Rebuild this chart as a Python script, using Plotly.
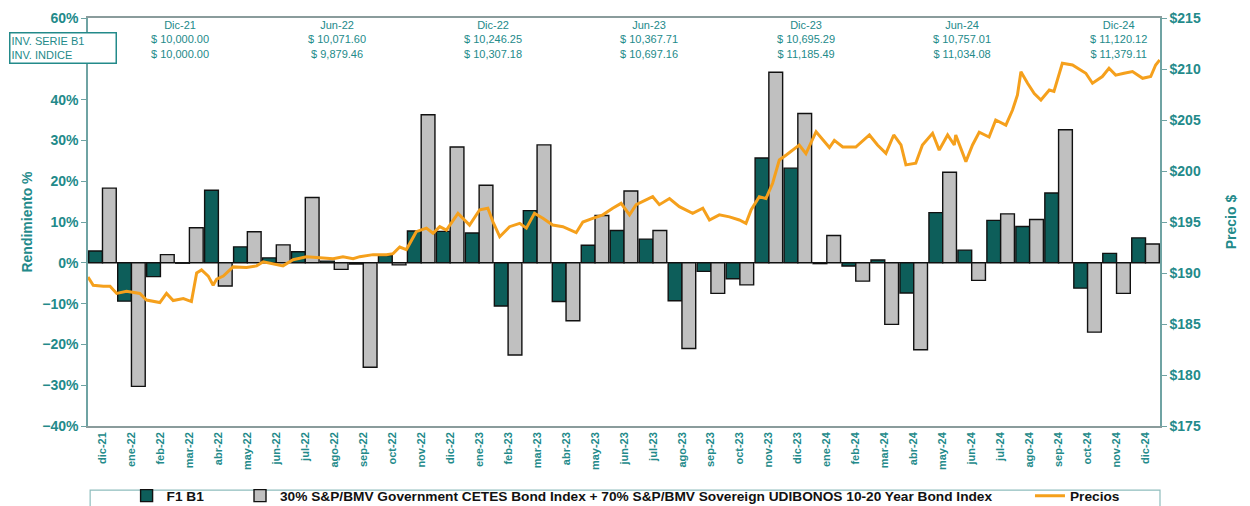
import plotly.graph_objects as go

# ---------------- data ----------------
months = ["dic-21", "ene-22", "feb-22", "mar-22", "abr-22", "may-22", "jun-22", "jul-22",
          "ago-22", "sep-22", "oct-22", "nov-22", "dic-22", "ene-23", "feb-23", "mar-23",
          "abr-23", "may-23", "jun-23", "jul-23", "ago-23", "sep-23", "oct-23", "nov-23",
          "dic-23", "ene-24", "feb-24", "mar-24", "abr-24", "may-24", "jun-24", "jul-24",
          "ago-24", "sep-24", "oct-24", "nov-24", "dic-24"]

f1_b1 = [2.9, -9.4, -3.4, -0.1, 17.8, 3.9, 1.2, 2.7, 0.4, -0.3, 1.8, 7.8,
         7.7, 7.3, -10.6, 12.8, -9.5, 4.3, 7.9, 5.8, -9.3, -2.1, -3.9, 25.7,
         23.2, -0.2, -0.8, 0.7, -7.4, 12.3, 3.1, 10.4, 8.9, 17.1, -6.2, 2.3, 6.1]

benchmark = [18.3, -30.3, 2.0, 8.6, -5.7, 7.6, 4.4, 16.0, -1.6, -25.6, -0.5, 36.3,
             28.4, 19.0, -22.6, 28.9, -14.2, 11.6, 17.6, 7.9, -21.0, -7.5, -5.4, 46.7,
             36.6, 6.7, -4.5, -15.1, -21.3, 22.2, -4.3, 12.0, 10.6, 32.6, -17.0, -7.5, 4.6]

# price series: position in months (0 = dic-21) and price
price_t = [-0.5, -0.32, 0.03, 0.26, 0.49, 0.83, 1.29, 1.52, 1.98, 2.21, 2.44, 2.79, 3.07,
           3.25, 3.42, 3.65, 3.82, 3.94, 4.17, 4.51, 4.97, 5.32, 5.55, 5.89, 6.23, 6.58,
           7.04, 7.5, 7.96, 8.3, 8.65, 8.88, 9.34, 9.8, 10.03, 10.26, 10.49, 10.83, 11.18,
           11.41, 11.64, 11.87, 12.27, 12.67, 13.02, 13.3, 13.48, 13.71, 14.05, 14.4, 14.63,
           14.91, 15.2, 15.54, 15.89, 16.35, 16.58, 16.92, 17.27, 17.61, 17.9, 18.19, 18.42,
           18.99, 19.22, 19.57, 19.91, 20.37, 20.72, 20.95, 21.29, 21.64, 21.98, 22.21, 22.39,
           22.67, 22.9, 23.13, 23.36, 23.6, 23.82, 24.05, 24.28, 24.63, 25.09, 25.26, 25.55,
           26.0, 26.47, 26.75, 27.04, 27.31, 27.56, 27.73, 28.07, 28.3, 28.65, 28.88, 29.17,
           29.4, 29.45, 29.8, 30.03, 30.26, 30.6, 30.83, 31.18, 31.41, 31.58, 31.7, 31.93,
           32.16, 32.39, 32.68, 32.84, 33.13, 33.48, 33.94, 34.17, 34.51, 34.74, 34.97, 35.26,
           35.55, 35.9, 36.18, 36.35, 36.49]
price = [189.6, 188.8, 188.7, 188.7, 188.0, 188.2, 188.0, 187.35, 187.1, 188.0, 187.3, 187.5, 187.2,
         190.0, 190.3, 189.7, 188.8, 189.4, 189.7, 190.6, 190.55, 190.7, 191.1, 190.9, 190.7, 191.3,
         191.6, 191.5, 191.4, 191.6, 191.4, 191.6, 191.8, 191.8, 191.9, 192.55, 192.3, 194.05, 194.4,
         193.9, 194.54, 194.2, 195.85, 194.7, 196.2, 196.35, 195.0, 193.56, 194.54, 194.87, 194.4,
         195.85, 195.36, 194.7, 194.54, 193.95, 195.0, 195.36, 195.7, 196.35, 196.83, 195.7, 196.7,
         197.48, 196.7, 197.3, 196.5, 195.85, 196.35, 195.2, 195.7, 195.5, 195.2, 194.87, 196.2,
         197.48, 197.3, 198.8, 201.08, 201.57, 202.05, 202.55, 201.7, 203.85, 202.3, 203.0, 202.35,
         202.35, 203.53, 202.55, 201.73, 203.53, 202.55, 200.6, 200.77, 202.55, 203.7, 202.05, 203.53,
         202.55, 203.53, 200.92, 202.55, 203.8, 203.33, 205.0, 204.5, 205.98, 207.45, 209.74, 208.6,
         207.6, 206.96, 207.94, 207.8, 210.56, 210.4, 209.58, 208.6, 209.26, 210.07, 209.4, 209.58,
         209.75, 209.09, 209.26, 210.4, 210.88]

periods = ["Dic-21", "Jun-22", "Dic-22", "Jun-23", "Dic-23", "Jun-24", "Dic-24"]
inv_serie = ["$ 10,000.00", "$ 10,071.60", "$ 10,246.25", "$ 10,367.71", "$ 10,695.29",
             "$ 10,757.01", "$ 11,120.12"]
inv_indice = ["$ 10,000.00", "$ 9,879.46", "$ 10,307.18", "$ 10,697.16", "$ 11,185.49",
              "$ 11,034.08", "$ 11,379.11"]

bench_name = ("30% S&P/BMV Government CETES Bond Index + 70% S&P/BMV Sovereign "
              "UDIBONOS 10-20 Year Bond Index")

# ---------------- style ----------------
TEAL = "#238a8a"
AXIS = "#6fa3a3"
FONT = "Liberation Sans, Arial, sans-serif"
idx = list(range(len(months)))

fig = go.Figure()
fig.add_trace(go.Bar(x=idx, y=f1_b1, name="F1 B1", legend="legend", showlegend=True,
                     marker=dict(color="#0d5e5a", line=dict(color="#111111", width=1.4))))
fig.add_trace(go.Bar(x=idx, y=benchmark, name=bench_name, legend="legend2", showlegend=True,
                     marker=dict(color="#c0c0c0", line=dict(color="#111111", width=1.4))))
fig.add_trace(go.Scatter(x=price_t, y=price, name="Precios", yaxis="y2", mode="lines",
                         legend="legend3", showlegend=True,
                         line=dict(color="#f5a01c", width=3)))

annotations = []
for i, (p, a, b) in enumerate(zip(periods, inv_serie, inv_indice)):
    annotations.append(dict(
        xref="paper", yref="paper", x=0.086 + i * 0.1459, y=1.0, yshift=1,
        xanchor="center", yanchor="top", showarrow=False, align="center",
        text=f"{p}<br>{a}<br>{b}",
        font=dict(family=FONT, size=11, color=TEAL)))
annotations.append(dict(
    xref="paper", yref="paper", x=-0.0737, y=0.966, xanchor="left", yanchor="top",
    showarrow=False, align="left", width=103, height=27,
    text="INV. SERIE B1<br>INV. INDICE", bgcolor="white",
    bordercolor=TEAL, borderwidth=1.5, borderpad=1,
    font=dict(family=FONT, size=11, color=TEAL)))

legend_common = dict(orientation="h", yanchor="top", y=-0.133, xanchor="left",
                     bgcolor="rgba(0,0,0,0)", borderwidth=0,
                     font=dict(family=FONT, size=13.7, color="#111111", weight="bold"))

# page body adds an 8px offset: figure is sized so the plot area lands at
# x 88..1160, y 18..426 of the window
fig.update_layout(
    width=1242, height=498,
    margin=dict(l=80, r=90, t=10, b=80, autoexpand=False),
    paper_bgcolor="white", plot_bgcolor="white",
    showlegend=True,
    barmode="group", bargap=0.05, bargroupgap=0.0,
    font=dict(family=FONT, color=TEAL),
    annotations=annotations,
    legend=dict(x=0.036, **legend_common),
    legend2=dict(x=0.1418, **legend_common),
    legend3=dict(x=0.8787, **legend_common),
    shapes=[dict(type="rect", xref="paper", yref="paper", x0=0.002, x1=1.0,
                 y0=-0.157, y1=-0.40, line=dict(color="#8fbdbd", width=1.2),
                 fillcolor="rgba(0,0,0,0)", layer="below")],
    xaxis=dict(range=[-0.5, 36.5], tickmode="array", tickvals=idx, ticktext=months,
               tickangle=-90, showgrid=False, zeroline=False, automargin=False,
               showline=True, linecolor="#8a9c9c", linewidth=1.5, mirror=True,
               tickfont=dict(family=FONT, size=11, color=TEAL, weight="bold")),
    yaxis=dict(range=[-40, 60], dtick=10, ticksuffix="%", showgrid=False, automargin=False,
               zeroline=True, zerolinecolor="#222222", zerolinewidth=1,
               showline=True, linecolor=AXIS, linewidth=1.5, ticks="outside",
               ticklen=5, tickcolor=AXIS,
               tickfont=dict(family=FONT, size=14, color=TEAL, weight="bold"),
               title=dict(text="Rendimiento %", standoff=6,
                          font=dict(family=FONT, size=14, color=TEAL, weight="bold"))),
    yaxis2=dict(range=[175, 215], dtick=5, tickprefix="$", overlaying="y", side="right",
                showgrid=False, zeroline=False, showline=True, linecolor=AXIS, automargin=False,
                linewidth=1.5, ticks="outside", ticklen=5, tickcolor=AXIS,
                tickfont=dict(family=FONT, size=14, color=TEAL, weight="bold"),
                title=dict(text="Precio $", standoff=26,
                           font=dict(family=FONT, size=14, color=TEAL, weight="bold"))),
)

fig.write_html("out.html")
